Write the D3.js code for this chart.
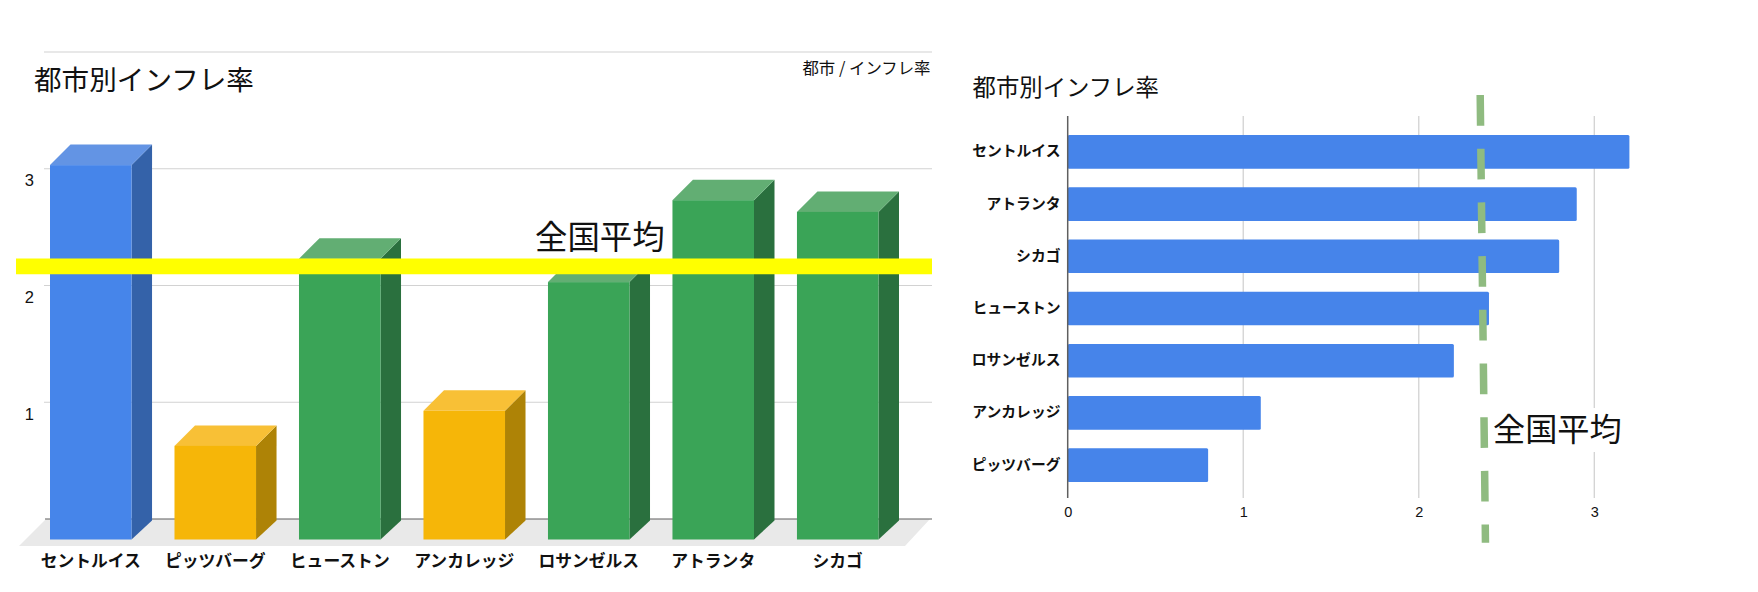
<!DOCTYPE html>
<html>
<head>
<meta charset="utf-8">
<script src="https://cdn.jsdelivr.net/npm/d3@7"></script>
<style>
  html, body { margin: 0; background: #fff; }
  svg { display: block; }
  text { font-family: "Noto Sans CJK JP", sans-serif; fill: #111; }
  .num text, text.num { font-family: "Liberation Sans", Arial, sans-serif; }
</style>
</head>
<body>
<svg id="chart" width="1758" height="592"></svg>
<script>
// data
var title = '都市別インフレ率';
var legendText = '都市 / インフレ率';
var avgLabel = '全国平均';

var citiesLeft = ['セントルイス', 'ピッツバーグ', 'ヒューストン', 'アンカレッジ', 'ロサンゼルス', 'アトランタ', 'シカゴ'];
var valuesLeft = [3.2, 0.8, 2.4, 1.1, 2.2, 2.9, 2.8];
var groupsLeft = ['blue', 'yellow', 'green', 'yellow', 'green', 'green', 'green'];
var ticksLeft = [1, 2, 3];
var gridLeft = [1, 2, 3, 4];
var avgLeft = 2.335;

var citiesRight = ['セントルイス', 'アトランタ', 'シカゴ', 'ヒューストン', 'ロサンゼルス', 'アンカレッジ', 'ピッツバーグ'];
var valuesRight = [3.2, 2.9, 2.8, 2.4, 2.2, 1.1, 0.8];
var ticksRight = [0, 1, 2, 3];
var avgRight = [2.35, 2.38]; // the hand drawn line leans a little

var shades = {
  blue:   { front: '#4685ea', top: '#6394e4', side: '#3462a9' },
  yellow: { front: '#f6b608', top: '#f8c036', side: '#ae8306' },
  green:  { front: '#3aa457', top: '#62ae73', side: '#2a703e' }
};

var svg = d3.select('#chart');

// left, 3d columns
var depthX = 20.5, depthY = 20.5;
var yFront = d3.scaleLinear().domain([0, 4]).range([539.5, 71.5]);
var yBack = d3.scaleLinear().domain([0, 4]).range([519, 52]);
var xLeft = d3.scaleBand().domain(citiesLeft).range([50, 878.5]).paddingInner(0.345).paddingOuter(0);

var left = svg.append('g');

left.selectAll('line.grid').data(gridLeft).enter().append('line')
  .attr('x1', 44).attr('x2', 932)
  .attr('y1', function(d) { return yBack(d); })
  .attr('y2', function(d) { return yBack(d); })
  .attr('stroke', '#d2d2d2').attr('stroke-width', 1.2);

// floor
left.append('path')
  .attr('d', 'M46,' + yBack(0) + 'L930,' + yBack(0) + 'L905,546L19,546Z')
  .attr('fill', '#e9e9e9');
left.append('line')
  .attr('x1', 45).attr('x2', 932)
  .attr('y1', yBack(0)).attr('y2', yBack(0))
  .attr('stroke', '#5f5f5f').attr('stroke-width', 1.2);

var columns = left.selectAll('g.col')
  .data(citiesLeft.map(function(c, i) { return { city: c, value: valuesLeft[i], group: groupsLeft[i] }; }))
  .enter().append('g').attr('class', 'col');

columns.append('path') // side
  .attr('fill', function(d) { return shades[d.group].side; })
  .attr('d', function(d) {
    var r = xLeft(d.city) + xLeft.bandwidth(), t = yFront(d.value), b = yFront(0);
    return 'M' + r + ',' + t + 'l' + depthX + ',' + (-depthY) + 'L' + (r + depthX) + ',' + (b - 19) + 'L' + r + ',' + b + 'Z';
  });
columns.append('path') // top
  .attr('fill', function(d) { return shades[d.group].top; })
  .attr('d', function(d) {
    var l = xLeft(d.city), t = yFront(d.value), w = xLeft.bandwidth();
    return 'M' + l + ',' + t + 'l' + depthX + ',' + (-depthY) + 'h' + w + 'l' + (-depthX) + ',' + depthY + 'Z';
  });
columns.append('rect') // front
  .attr('x', function(d) { return xLeft(d.city); })
  .attr('y', function(d) { return yFront(d.value); })
  .attr('width', xLeft.bandwidth())
  .attr('height', function(d) { return yFront(0) - yFront(d.value); })
  .attr('fill', function(d) { return shades[d.group].front; });

left.append('g').attr('class', 'num')
  .attr('transform', 'translate(34,11.5)')
  .call(d3.axisLeft(yBack).tickValues(ticksLeft).tickSize(0).tickPadding(0).tickFormat(d3.format('d')))
  .call(function(g) {
    g.select('.domain').remove();
    g.selectAll('text').attr('font-size', 16.5).style('fill', '#111');
  });

left.selectAll('text.cat').data(citiesLeft).enter().append('text')
  .attr('class', 'cat')
  .attr('x', function(d) { return xLeft(d) + xLeft.bandwidth() / 2; })
  .attr('y', 566.5)
  .attr('text-anchor', 'middle')
  .attr('font-size', 16.8).attr('font-weight', 700)
  .text(function(d) { return d; });

// yellow average band
left.append('line')
  .attr('x1', 16).attr('x2', 932)
  .attr('y1', yFront(avgLeft)).attr('y2', yFront(avgLeft))
  .attr('stroke', '#ffff00').attr('stroke-width', 15.8);

left.append('text').attr('x', 34).attr('y', 90)
  .attr('font-size', 27.6).text(title);
left.append('text').attr('x', 930.5).attr('y', 73.5)
  .attr('text-anchor', 'end').attr('font-size', 16.4).text(legendText);
left.append('text').attr('x', 535).attr('y', 249)
  .attr('font-size', 32.4).text(avgLabel);

// right, flat bars
var xRight = d3.scaleLinear().domain([0, 3]).range([1067.7, 1594.3]);
var yRight = d3.scaleBand().domain(citiesRight).range([116.5, 500.5]).padding(0.356);

var right = svg.append('g');

right.selectAll('line.grid').data(ticksRight.slice(1)).enter().append('line')
  .attr('x1', function(d) { return xRight(d); })
  .attr('x2', function(d) { return xRight(d); })
  .attr('y1', 116).attr('y2', 498)
  .attr('stroke', '#d2d2d2').attr('stroke-width', 1.3);

right.selectAll('rect.bar').data(citiesRight).enter().append('rect')
  .attr('class', 'bar')
  .attr('x', xRight(0))
  .attr('y', function(d) { return yRight(d); })
  .attr('width', function(d, i) { return xRight(valuesRight[i]) - xRight(0); })
  .attr('height', yRight.bandwidth())
  .attr('rx', 1.5)
  .attr('fill', '#4684ea');

right.append('line')
  .attr('x1', xRight(0)).attr('x2', xRight(0))
  .attr('y1', 116).attr('y2', 498)
  .attr('stroke', '#5f5f5f').attr('stroke-width', 1.5);

right.append('g').attr('class', 'num')
  .attr('transform', 'translate(0,498)')
  .call(d3.axisBottom(xRight).tickValues(ticksRight).tickSize(0).tickPadding(9).tickFormat(d3.format('d')))
  .call(function(g) {
    g.select('.domain').remove();
    g.selectAll('text').attr('font-size', 14.5).style('fill', '#111');
  });

right.selectAll('text.cat').data(citiesRight).enter().append('text')
  .attr('class', 'cat')
  .attr('x', 1060.5)
  .attr('y', function(d) { return yRight(d) + yRight.bandwidth() / 2 + 4.5; })
  .attr('text-anchor', 'end')
  .attr('font-size', 14.8).attr('font-weight', 700)
  .text(function(d) { return d; });

right.append('line')
  .attr('x1', xRight(avgRight[0])).attr('x2', xRight(avgRight[1]))
  .attr('y1', 95).attr('y2', 542.7)
  .attr('stroke', '#8fbb80').attr('stroke-width', 7.5)
  .attr('stroke-dasharray', '30.7 23');

right.append('rect').attr('x', 1490).attr('y', 408).attr('width', 136).attr('height', 44).attr('fill', '#fff');
right.append('text').attr('x', 1493).attr('y', 441)
  .attr('font-size', 32.2).text(avgLabel);
right.append('text').attr('x', 972.5).attr('y', 96)
  .attr('font-size', 23.4).text(title);
</script>
</body>
</html>
